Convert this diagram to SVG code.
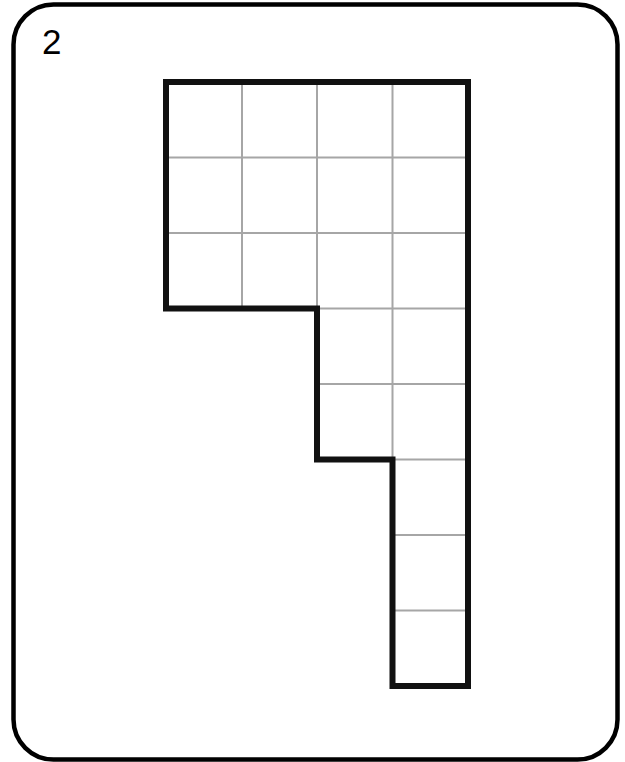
<svg xmlns="http://www.w3.org/2000/svg" width="625" height="762" viewBox="0 0 625 762">
<style>
.card{fill:#fff;stroke:#000;stroke-width:4.5}
.grid{stroke:#a6a6a6;stroke-width:2;fill:none}
.outline{fill:none;stroke:#111;stroke-width:6;stroke-linejoin:miter;stroke-linecap:square}
.lbl{font-family:"Liberation Sans",Arial,sans-serif;font-size:35px;fill:#000}
</style>
<rect width="625" height="762" fill="#fff"/>
<g id="card">
<rect class="card" x="13.5" y="4.5" width="604" height="755" rx="40" ry="40"/>
<text class="lbl" x="42" y="54">2</text>
</g>
<g id="grid">
<path class="grid" d="M242 82V308.5 M317 82V459.5 M392.5 82V686 M166 157.5H468 M166 233H468 M317 308.5H468 M317 384H468 M392.5 459.5H468 M392.5 535H468 M392.5 610.5H468"/>
</g>
<g id="shape">
<path class="outline" d="M166 82H468V686H392.5V459.5H317V308.5H166Z"/>
</g>
</svg>
